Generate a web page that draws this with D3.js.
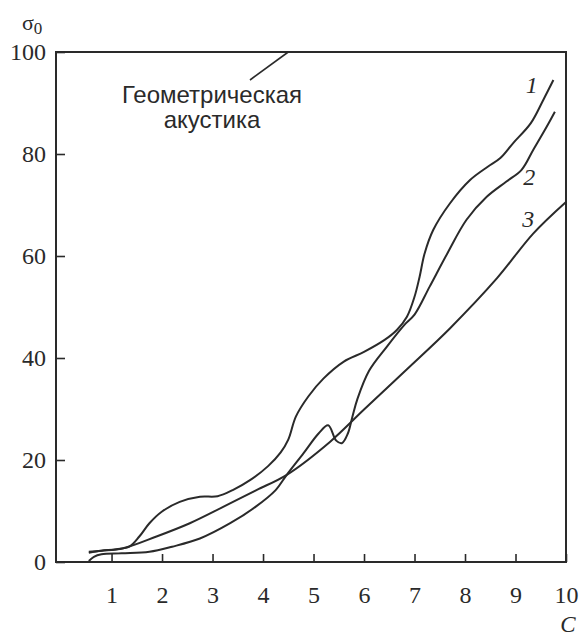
<!DOCTYPE html>
<html><head><meta charset="utf-8">
<script src="https://cdn.jsdelivr.net/npm/d3@7"></script>
<style>body{margin:0;background:#fff}</style>
</head><body>
<svg id="chart" width="580" height="639"></svg>
<script>
// Data (C, sigma_0)
const xTicks = [1,2,3,4,5,6,7,8,9,10];
const yTicks = [0,20,40,60,80,100];
const curveLabels = ["1","2","3"];

const c1x = [0.55,0.8,1.1,1.35,1.55,1.75,2.0,2.35,2.75,3.1,3.4,3.75,4.1,4.35,4.5,4.65,4.9,5.2,5.6,6.0,6.4,6.65,6.85,7.0,7.1,7.2,7.37,7.7,8.1,8.45,8.7,8.95,9.3,9.55,9.75];
const c1y = [1.8,2.2,2.5,3.0,5.0,7.6,9.9,11.8,12.8,12.9,14.1,16.1,18.8,21.5,24.0,28.5,32.5,36.0,39.3,41.2,43.5,45.5,48.1,52.0,55.9,60.5,65.1,70.3,74.9,77.5,79.2,82.1,86.0,90.6,94.5];

const c2x = [0.55,0.65,0.8,1.2,1.75,2.2,2.75,3.35,3.85,4.25,4.47,4.8,5.1,5.29,5.45,5.56,5.68,5.77,5.87,6.1,6.45,6.8,7.0,7.3,7.65,8.03,8.43,8.82,9.12,9.35,9.62,9.78];
const c2y = [0.2,1.0,1.5,1.7,2.0,3.0,4.6,7.6,10.8,14.1,17.1,21.3,25.2,26.8,23.8,23.3,25.2,28.5,32.0,37.5,42.2,46.5,48.5,54.0,60.5,67.1,71.6,74.6,76.9,80.8,85.4,88.3];

const c3x = [0.55,0.8,1.23,1.89,2.55,3.21,3.87,4.47,5.33,6.0,6.85,7.7,8.63,9.35,10.0];
const c3y = [2.0,2.2,2.7,5.0,7.6,10.8,14.1,17.1,23.6,29.9,37.8,45.8,55.6,64.4,70.6];

const svg = d3.select("#chart");
const ink = "#2a2a2a";
const x = d3.scaleLinear().domain([-0.1,10]).range([56,566]);
const y = d3.scaleLinear().domain([0,100]).range([562,52]);

// frame
svg.append("rect").attr("x",x(-0.1)).attr("y",y(100))
  .attr("width",x(10)-x(-0.1)).attr("height",y(0)-y(100))
  .attr("fill","none").attr("stroke",ink).attr("stroke-width",2);

// x axis
const gx = svg.append("g").attr("transform",`translate(0,${y(0)})`)
  .call(d3.axisBottom(x).tickValues(xTicks).tickSize(-8).tickPadding(24).tickFormat(d3.format("d")));
gx.select(".domain").remove();
gx.selectAll("line").attr("stroke",ink).attr("stroke-width",1.6);
gx.selectAll("text").attr("font-family","Liberation Serif, serif").attr("font-size",24).attr("fill",ink);

// y axis
const gy = svg.append("g").attr("transform",`translate(${x(-0.1)},0)`)
  .call(d3.axisLeft(y).tickValues(yTicks).tickSize(-9).tickPadding(10).tickFormat(d3.format("d")));
gy.select(".domain").remove();
gy.selectAll("line").attr("stroke",ink).attr("stroke-width",1.6);
gy.selectAll("text").attr("font-family","Liberation Serif, serif").attr("font-size",24).attr("fill",ink);

// axis titles
const sig = svg.append("text").attr("x",22).attr("y",30)
  .attr("font-family","Liberation Serif, serif").attr("font-size",22).attr("fill",ink);
sig.append("tspan").text("σ");
sig.append("tspan").attr("font-size",17).attr("dy",4).text("0");
svg.append("text").attr("x",568).attr("y",632).attr("text-anchor","middle")
  .attr("font-family","Liberation Serif, serif").attr("font-style","italic")
  .attr("font-size",23).attr("fill",ink).text("C");

// curves
const line = d3.line().x(d=>x(d[0])).y(d=>y(d[1])).curve(d3.curveCatmullRom.alpha(0.5));
const series = [d3.zip(c1x,c1y), d3.zip(c2x,c2y), d3.zip(c3x,c3y)];
svg.append("g").selectAll("path").data(series).join("path")
  .attr("d",line).attr("fill","none").attr("stroke",ink).attr("stroke-width",2);

// curve labels
const labPos = [[9.32,92],[9.27,74],[9.25,65.7]];
svg.append("g").selectAll("text").data(curveLabels).join("text")
  .attr("x",(d,i)=>x(labPos[i][0])).attr("y",(d,i)=>y(labPos[i][1]))
  .attr("text-anchor","middle")
  .attr("font-family","Liberation Serif, serif").attr("font-style","italic")
  .attr("font-size",24).attr("fill",ink).text(d=>d);

// annotation
const ann = svg.append("text").attr("font-family","Liberation Sans, Arial, sans-serif")
  .attr("font-size",24).attr("fill",ink).attr("text-anchor","middle");
ann.append("tspan").attr("x",212).attr("y",103).text("Геометрическая");
ann.append("tspan").attr("x",212).attr("y",128).text("акустика");
svg.append("line").attr("x1",250).attr("y1",80).attr("x2",x(4.5)).attr("y2",y(100))
  .attr("stroke",ink).attr("stroke-width",1.6);
</script>
</body></html>
